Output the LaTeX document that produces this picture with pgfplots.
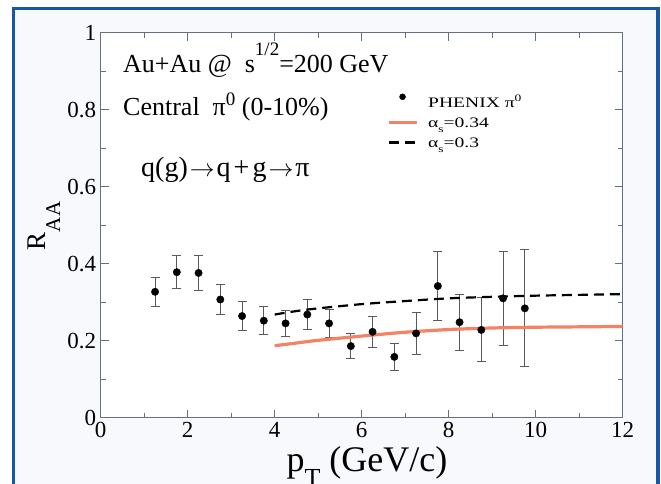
\documentclass[border=0pt]{standalone}
\usepackage{pgfplots}
\pgfplotsset{compat=1.18}
\usepackage{fontspec}
\setmainfont{Liberation Serif}
\definecolor{framecol}{RGB}{22,88,162}
\definecolor{axcol}{RGB}{100,112,125}
\definecolor{salmon}{RGB}{244,130,100}
\definecolor{inner}{RGB}{248,249,252}
\newcommand{\bigtxt}{\fontsize{26}{30}\selectfont}
\newcommand{\sups}[2]{\raisebox{#1}{\fontsize{19}{19}\selectfont #2}}
\newcommand{\wide}[1]{\scalebox{1.35}[1]{#1}}
\pgfplotsset{dotlegend/.style={legend image code/.code={%
  \draw[black, mark=*, mark size=3pt, only marks] plot coordinates {(14pt,5pt)};}}}
\begin{document}
\begin{tikzpicture}[x=1pt,y=1pt]
\path[use as bounding box] (0,0) rectangle (661,483);
\fill[inner] (13.7,-10) rectangle (658,474.5);
\draw[framecol, line width=3.5pt] (13.7,-10) -- (13.7,474.5) -- (658,474.5) -- (658,-10);
\begin{axis}[
  at={(100.7pt,65.3pt)}, anchor=south west, scale only axis,
  width=522pt, height=385pt,
  xmin=0, xmax=12, ymin=0, ymax=1,
  xtick={0,2,4,6,8,10,12}, ytick={0,0.2,0.4,0.6,0.8,1},
  minor x tick num=1, minor y tick num=1,
  tick align=inside, major tick length=8pt, minor tick length=5pt,
  axis line style={axcol, line width=1.2pt},
  every tick/.style={axcol, line width=1.2pt},
  tick label style={font=\fontsize{23}{27}\selectfont, text=black},
  /pgf/number format/assume math mode=true,
  xticklabel style={yshift=-1pt},
  yticklabel style={xshift=-1pt},
  axis background/.style={fill=white},
  legend style={at={(rel axis cs:0.548,0.842)}, anchor=north west, draw=none, fill=none,
    font=\fontsize{14.5}{16}\selectfont, row sep=7pt, inner sep=0pt,
    nodes={inner sep=1pt},
    /tikz/every odd column/.style={column sep=9pt}},
  legend cell align=left,
  legend image code/.code={\draw[#1] (0pt,1pt) -- (28pt,1pt);},
]
\addplot[only marks, mark=*, mark size=3.7pt, black, dotlegend,
  error bars/.cd, y dir=both, y explicit,
  error bar style={black!65, line width=1pt},
  error mark options={rotate=90, mark size=4.5pt, black!65, line width=1pt}]
  coordinates {
  (1.25,0.327) +- (0,0.038)
  (1.75,0.378) +- (0,0.043)
  (2.25,0.376) +- (0,0.045)
  (2.75,0.307) +- (0,0.039)
  (3.25,0.264) +- (0,0.038)
  (3.75,0.252) +- (0,0.037)
  (4.25,0.245) +- (0,0.034)
  (4.75,0.268) +- (0,0.038)
  (5.25,0.245) +- (0,0.036)
  (5.75,0.186) +- (0,0.032)
  (6.25,0.223) +- (0,0.040)
  (6.75,0.158) +- (0,0.035)
  (7.25,0.219) +- (0,0.054)
  (7.75,0.342) +- (0,0.090)
  (8.25,0.248) +- (0,0.073)
  (8.75,0.228) +- (0,0.083)
  (9.25,0.310) +- (0,0.122)
  (9.75,0.284) +- (0,0.152)
};
\addlegendentry{\wide{PHENIX π\raisebox{6pt}{\fontsize{10}{10}\selectfont 0}}}
\addplot[salmon, line width=3.2pt, no marks, smooth] coordinates {
  (4,0.187) (4.5,0.194) (5,0.201) (6,0.212) (7,0.222) (8,0.229)
  (9,0.233) (10,0.235) (11,0.236) (12,0.237)
};
\addlegendentry{\wide{α\raisebox{-5pt}{\fontsize{10}{10}\selectfont s}=0.34}}
\addplot[black, line width=2.2pt, dash pattern=on 10pt off 6pt, no marks, smooth] coordinates {
  (4,0.268) (4.5,0.277) (5,0.284) (6,0.295) (7,0.303) (8,0.310)
  (9,0.314) (10,0.317) (11,0.319) (12,0.321)
};
\addlegendentry{\wide{α\raisebox{-5pt}{\fontsize{10}{10}\selectfont s}=0.3}}
\end{axis}
\node[anchor=base west, font=\bigtxt, inner sep=0pt] at (123,410.7) {Au+Au @\ \ s\sups{17pt}{1/2}=200 GeV};
\node[anchor=base west, font=\bigtxt, inner sep=0pt] at (123,367) {Central\ \ π\sups{10pt}{0} (0-10\%)};
\node[anchor=base west, font=\fontsize{28}{32}\selectfont, inner sep=0pt] at (141,306.3)
  {q(g)\kern2pt$\rightarrow$\kern2pt q\kern3pt+\kern3pt g\kern2pt$\rightarrow$\kern2pt π};
\node[anchor=base, font=\fontsize{36}{40}\selectfont, inner sep=0pt] at (367,11.3)
  {p\raisebox{-15pt}{\fontsize{26}{26}\selectfont T} (GeV/c)};
\node[anchor=base, rotate=90, font=\fontsize{27}{30}\selectfont, inner sep=0pt] at (45,257)
  {R\raisebox{-15pt}{\fontsize{21}{21}\selectfont AA}};
\end{tikzpicture}
\end{document}
